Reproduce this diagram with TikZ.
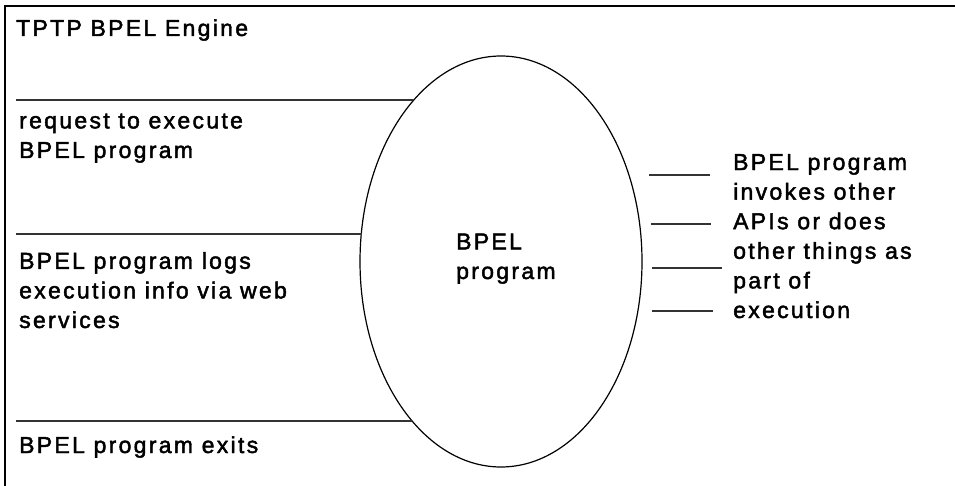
\documentclass[tikz,border=0pt]{standalone}
\usepackage{fontspec}
\setmainfont{Liberation Sans}[LetterSpace=10.0, FakeBold=2]
\usetikzlibrary{shapes.geometric}
\begin{document}
\begin{tikzpicture}[x=1pt,y=-1pt,
  lbl/.style={font=\fontsize{23}{29.6}\selectfont, align=left, inner sep=0pt, anchor=base west},
  rule/.style={draw=black!80, line width=1.4pt},
  frame/.style={draw=black, line width=2.6pt}]
\useasboundingbox (0,0) rectangle (955,486);
\begin{scope}
\clip (0,0) rectangle (955,486);
\draw[frame] (5,6) rectangle (975,500);
\end{scope}
% ellipse
\node[draw, line width=1.2pt, ellipse, minimum width=282pt, minimum height=411pt, inner sep=0pt] (ell) at (501,261.5) {};
% texts (anchored at the baseline of their last line)
\node[lbl] (title) at (16,36) {TPTP BPEL Engine};
\node[lbl] (req) at (19,158) {request to execute\\BPEL program};
\node[lbl] (logs) at (19,328) {BPEL program logs\\execution info via web\\services};
\node[lbl] (exits) at (19,453) {BPEL program exits};
\node[lbl] (prog) at (456,279) {BPEL\\program};
\node[lbl] (inv) at (733,318) {BPEL program\\invokes other\\APIs or does\\other things as\\part of\\execution};
% left rules
\coordinate (l1a) at (16,100); \coordinate (l1b) at (413,100);
\coordinate (l2a) at (16,234); \coordinate (l2b) at (362,234);
\coordinate (l3a) at (16,421); \coordinate (l3b) at (412,421);
\draw[rule] (l1a) -- (l1b);
\draw[rule] (l2a) -- (l2b);
\draw[rule] (l3a) -- (l3b);
% right rules
\coordinate (r1a) at (649,175); \coordinate (r1b) at (710,175);
\coordinate (r2a) at (651,224); \coordinate (r2b) at (711,224);
\coordinate (r3a) at (652,268); \coordinate (r3b) at (722,268);
\coordinate (r4a) at (652,311); \coordinate (r4b) at (713,311);
\draw[rule] (r1a) -- (r1b);
\draw[rule] (r2a) -- (r2b);
\draw[rule] (r3a) -- (r3b);
\draw[rule] (r4a) -- (r4b);
\end{tikzpicture}
\end{document}
